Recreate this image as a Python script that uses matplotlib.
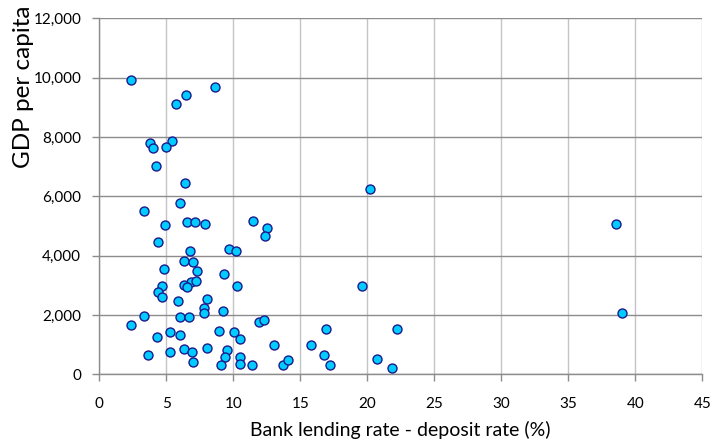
import matplotlib
matplotlib.use("Agg")
import matplotlib.pyplot as plt
from matplotlib.ticker import FuncFormatter

plt.rcParams['font.family'] = ['Lato', 'DejaVu Sans']

# Interest rate spread (%) and GDP per capita by country
spread = [2.4, 8.6, 6.5, 5.7, 3.8, 5.4, 4.0, 5.0, 4.2, 6.4,
          6.0, 3.3, 4.9, 6.55, 7.15, 7.9, 11.5, 12.5, 12.4, 4.4,
          6.8, 9.7, 10.2, 6.3, 7.0, 4.8, 7.3, 9.3, 6.85, 7.2,
          4.7, 6.3, 6.55, 10.3, 4.4, 4.7, 8.0, 5.9, 7.8, 7.8,
          9.2, 3.35, 6.0, 6.7, 2.4, 11.9, 12.3, 5.3, 4.3, 6.0,
          8.9, 10.05, 10.5, 13.0, 3.65, 5.25, 6.3, 6.95, 8.0, 9.5,
          9.4, 7.0, 9.1, 10.5, 10.5, 11.4, 13.7, 14.1, 20.2, 19.6,
          16.9, 22.2, 15.8, 16.75, 17.2, 20.7, 21.85, 38.55, 39.0]
gdp = [9920, 9690, 9410, 9100, 7810, 7870, 7620, 7660, 7010, 6440,
       5760, 5500, 5040, 5140, 5140, 5070, 5170, 4940, 4660, 4450,
       4170, 4220, 4150, 3810, 3780, 3540, 3470, 3370, 3120, 3150,
       2980, 3000, 2930, 2980, 2780, 2600, 2530, 2460, 2220, 2070,
       2140, 1960, 1930, 1930, 1660, 1750, 1830, 1440, 1250, 1310,
       1460, 1430, 1190, 990, 650, 760, 860, 760, 890, 820,
       580, 400, 300, 570, 350, 310, 330, 480, 6240, 2980,
       1520, 1530, 990, 640, 320, 530, 200, 5070, 2060]

x_ticks = list(range(0, 50, 5))
y_ticks = list(range(0, 14000, 2000))

fig = plt.figure(figsize=(7.12, 4.47), dpi=100)
ax = fig.add_axes([0.1395, 0.1626, 0.8469, 0.7964])

ax.scatter(spread, gdp, s=42, facecolor='#00CCFF', edgecolor='#1A1A8C',
           linewidth=1.0, zorder=3, clip_on=False)

ax.set_xlim(0, 45)
ax.set_ylim(0, 12000)
ax.set_xticks(x_ticks)
ax.set_yticks(y_ticks)
ax.yaxis.set_major_formatter(FuncFormatter(lambda v, p: f"{int(v):,}"))

ax.xaxis.grid(True, color='#C4C4C4', linewidth=1.0)
ax.yaxis.grid(True, color='#8C8C8C', linewidth=1.0)
ax.set_axisbelow(True)

for side in ('top', 'right'):
    ax.spines[side].set_visible(False)
ax.spines['left'].set_color('#8C8C8C')
ax.spines['bottom'].set_color('#8C8C8C')
ax.spines['left'].set_linewidth(1.0)
ax.spines['bottom'].set_linewidth(1.0)

ax.tick_params(axis='both', direction='out', length=5, width=1.0,
               color='#8C8C8C', labelsize=11, labelcolor='black')
ax.tick_params(axis='x', pad=11)
ax.tick_params(axis='y', pad=8)

fig.text(0.5628, 0.038, 'Bank lending rate - deposit rate (%)',
         ha='center', va='center', fontsize=14)
fig.text(0.033, 0.807, 'GDP per capita', rotation=90,
         ha='center', va='center', fontsize=17.5)

fig.savefig('out.png', dpi=100)
